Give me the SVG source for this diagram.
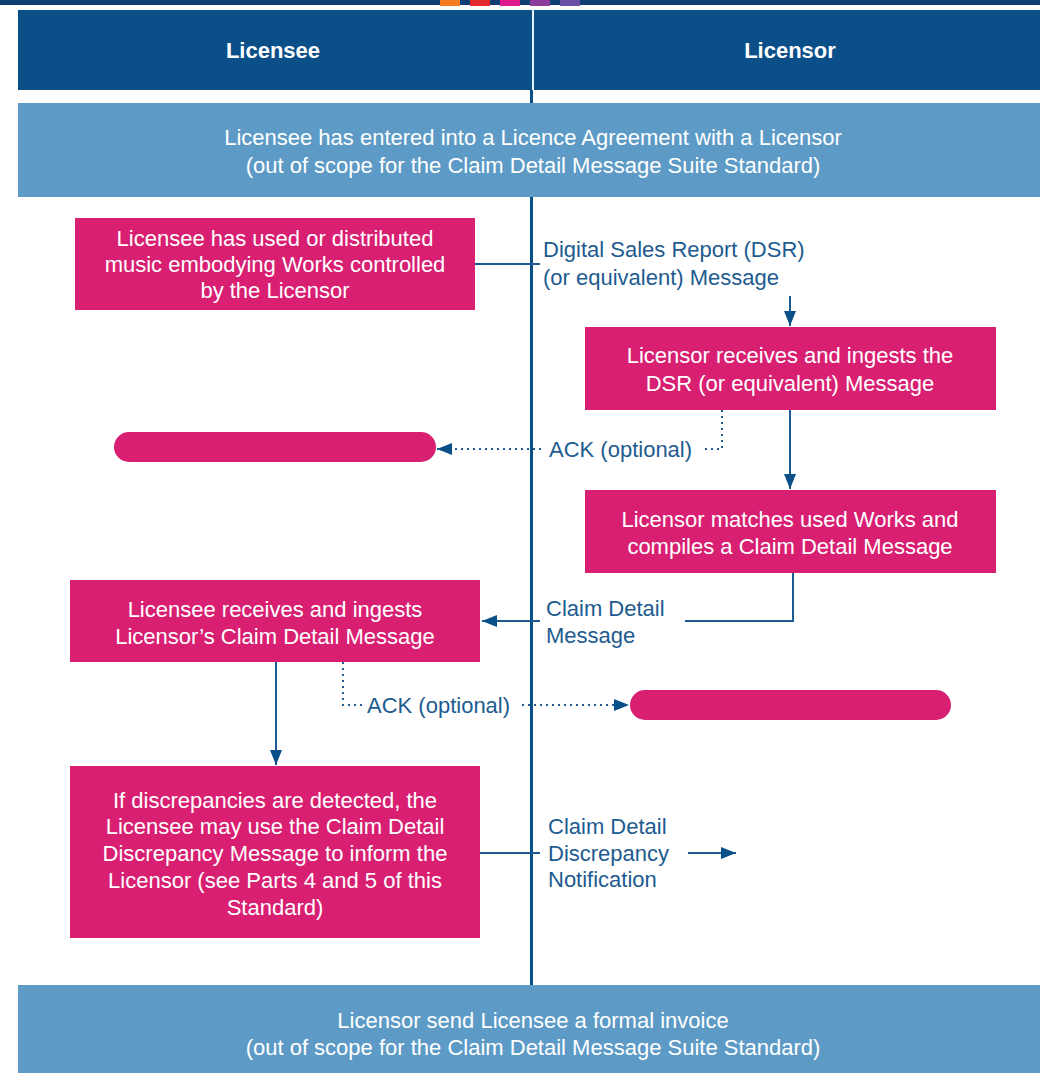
<svg xmlns="http://www.w3.org/2000/svg" width="1040" height="1073" viewBox="0 0 1040 1073">
<defs>
<style>
.hdr{fill:#0b4f89}
.band{fill:#5d9bc6}
.box{fill:#d81f72}
.wt{fill:#ffffff;font-family:"Liberation Sans",Arial,sans-serif;font-size:22px;text-anchor:middle}
.ht{fill:#ffffff;font-family:"Liberation Sans",Arial,sans-serif;font-size:22px;font-weight:bold;text-anchor:middle}
.bt{fill:#1d5b90;font-family:"Liberation Sans",Arial,sans-serif;font-size:22px}
.ln{stroke:#1d5b90;stroke-width:2;fill:none}
.dot{stroke:#1d5b90;stroke-width:2;fill:none;stroke-dasharray:2 4}
</style>
<marker id="ahs" viewBox="0 0 10 10" refX="10" refY="5" markerWidth="15" markerHeight="15" orient="auto" markerUnits="userSpaceOnUse">
<path d="M0,1 L10,5 L0,9 z" fill="#0b4f89"/>
</marker>
</defs>
<rect width="1040" height="1073" fill="#ffffff"/>
<g id="topstrip">
<rect x="0" y="0" width="1040" height="5" fill="#0d3f73"/>
<rect x="440" y="0" width="20" height="6" fill="#f47b20"/>
<rect x="470" y="0" width="20" height="6" fill="#e32a2a"/>
<rect x="500" y="0" width="20" height="6" fill="#e0198a"/>
<rect x="530" y="0" width="20" height="6" fill="#8e3c9c"/>
<rect x="560" y="0" width="20" height="6" fill="#6a4fa5"/>
</g>
<g id="timeline">
<line x1="531.5" y1="88" x2="531.5" y2="986" stroke="#0b4f89" stroke-width="3"/>
</g>
<g id="header">
<rect class="hdr" x="18" y="10" width="1022" height="80"/>
<line x1="533" y1="10" x2="533" y2="90" stroke="#e8f1f8" stroke-width="2"/>
<text class="ht" x="273" y="58">Licensee</text>
<text class="ht" x="790" y="58">Licensor</text>
</g>
<g id="agreement">
<rect class="band" x="18" y="103" width="1022" height="94"/>
<text class="wt" x="533" y="145">Licensee has entered into a Licence Agreement with a Licensor</text>
<text class="wt" x="533" y="173">(out of scope for the Claim Detail Message Suite Standard)</text>
</g>
<g id="invoice">
<rect class="band" x="18" y="985" width="1022" height="88"/>
<text class="wt" x="533" y="1028">Licensor send Licensee a formal invoice</text>
<text class="wt" x="533" y="1055">(out of scope for the Claim Detail Message Suite Standard)</text>
</g>
<g id="used">
<rect class="box" x="75" y="218" width="400" height="92"/>
<text class="wt" x="275" y="246">Licensee has used or distributed</text>
<text class="wt" x="275" y="272">music embodying Works controlled</text>
<text class="wt" x="275" y="298">by the Licensor</text>
</g>
<g id="ingestdsr">
<rect class="box" x="585" y="327" width="411" height="83"/>
<text class="wt" x="790" y="363">Licensor receives and ingests the</text>
<text class="wt" x="790" y="391">DSR (or equivalent) Message</text>
</g>
<g id="pill1">
<rect class="box" x="114" y="432" width="322" height="30" rx="15"/>
</g>
<g id="matches">
<rect class="box" x="585" y="490" width="411" height="83"/>
<text class="wt" x="790" y="527">Licensor matches used Works and</text>
<text class="wt" x="790" y="554">compiles a Claim Detail Message</text>
</g>
<g id="ingestclaim">
<rect class="box" x="70" y="580" width="410" height="82"/>
<text class="wt" x="275" y="617">Licensee receives and ingests</text>
<text class="wt" x="275" y="644">Licensor’s Claim Detail Message</text>
</g>
<g id="pill2">
<rect class="box" x="630" y="690" width="321" height="30" rx="15"/>
</g>
<g id="discrepancy">
<rect class="box" x="70" y="766" width="410" height="172"/>
<text class="wt" x="275" y="808">If discrepancies are detected, the</text>
<text class="wt" x="275" y="834">Licensee may use the Claim Detail</text>
<text class="wt" x="275" y="861">Discrepancy Message to inform the</text>
<text class="wt" x="275" y="888">Licensor (see Parts 4 and 5 of this</text>
<text class="wt" x="275" y="915">Standard)</text>
</g>
<g id="connectors">
<line class="ln" x1="475" y1="264" x2="540" y2="264"/>
<text class="bt" x="543" y="257">Digital Sales Report (DSR)</text>
<text class="bt" x="543" y="285">(or equivalent) Message</text>
<line class="ln" x1="790" y1="296" x2="790" y2="326" marker-end="url(#ahs)"/>
<polyline class="dot" points="722,410 722,449 704,449"/>
<text class="bt" x="549" y="457">ACK (optional)</text>
<line class="dot" x1="541" y1="449" x2="437" y2="449" marker-end="url(#ahs)"/>
<line class="ln" x1="790" y1="410" x2="790" y2="489" marker-end="url(#ahs)"/>
<polyline class="ln" points="793,573 793,621 685,621"/>
<text class="bt" x="546" y="616">Claim Detail</text>
<text class="bt" x="546" y="643">Message</text>
<line class="ln" x1="540" y1="621" x2="482" y2="621" marker-end="url(#ahs)"/>
<polyline class="dot" points="343,662 343,705 362,705"/>
<text class="bt" x="367" y="713">ACK (optional)</text>
<line class="dot" x1="522" y1="705" x2="629" y2="705" marker-end="url(#ahs)"/>
<line class="ln" x1="276" y1="662" x2="276" y2="765" marker-end="url(#ahs)"/>
<line class="ln" x1="480" y1="853" x2="540" y2="853"/>
<text class="bt" x="548" y="834">Claim Detail</text>
<text class="bt" x="548" y="861">Discrepancy</text>
<text class="bt" x="548" y="887">Notification</text>
<line class="ln" x1="688" y1="853" x2="736" y2="853" marker-end="url(#ahs)"/>
</g>
</svg>
